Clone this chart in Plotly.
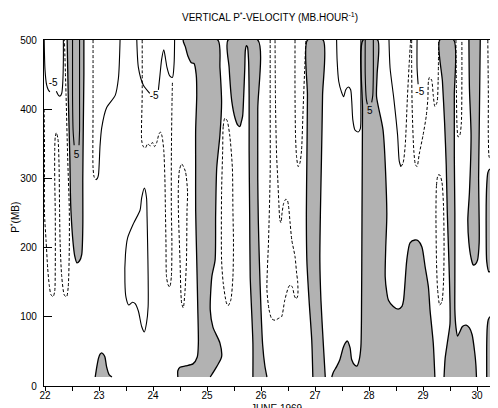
import plotly.graph_objects as go

# ---------------- data (day of June 1969, P* in mb) ----------------
day_ticks = [22, 23, 24, 25, 26, 27, 28, 29, 30]
p_ticks = [0, 100, 200, 300, 400, 500]

# shaded (positive) regions, boundary
region_s1 = [(22.41,500),(22.43,420),(22.46,330),(22.47,280),(22.48,254),(22.52,207),(22.55,188),(22.59,178),
             (22.64,181),(22.68,190),(22.70,230),(22.70,300),(22.71,380),(22.72,450),(22.72,500)]
region_s2 = [(22.93,13),(22.96,28),(22.99,40),(23.02,46),(23.05,48),(23.08,46),(23.11,42),(23.14,28),(23.19,16),(23.24,13)]
region_s3 = [(24.46,13),(24.46,22),(24.50,27),(24.60,29),(24.74,32),(24.82,42),(24.84,62),(24.83,110),(24.81,182),
             (24.79,254),(24.79,320),(24.79,370),(24.81,420),(24.80,450),(24.76,466),(24.71,467),(24.65,476),
             (24.60,490),(24.56,500),(25.20,500),(25.24,460),(25.27,410),(25.24,363),(25.18,315),(25.16,247),
             (25.15,182),(25.09,158),(25.06,110),(25.11,85),(25.24,62),(25.27,42),(25.18,28),(25.06,13)]
region_s4 = [(25.85,13),(25.85,62),(25.82,120),(25.80,158),(25.79,250),(25.78,340),(25.78,420),(25.77,470),
             (25.75,490),(25.73,492),(25.71,485),(25.70,460),(25.68,420),(25.66,390),(25.63,380),(25.61,375),
             (25.57,377),(25.52,387),(25.46,411),(25.41,460),(25.39,500),(25.94,500),(25.94,400),(25.94,300),
             (25.95,240),(25.97,180),(26.00,110),(26.03,60),(26.07,30),(26.11,13)]
region_s6 = [(26.96,13),(26.94,66),(26.89,124),(26.85,180),(26.84,250),(26.85,330),(26.86,420),(26.86,500),
             (27.15,500),(27.14,420),(27.12,330),(27.10,250),(27.09,182),(27.11,124),(27.15,66),(27.19,13)]
region_s8 = [(27.31,13),(27.34,20),(27.40,28),(27.46,38),(27.52,55),(27.56,62),(27.60,65),(27.65,55),(27.68,38),
             (27.74,30),(27.78,29),(27.82,38),(27.85,57),(27.86,95),(27.87,240),(27.88,400),(27.89,500),
             (28.16,500),(28.15,450),(28.14,418),(28.26,370),(28.33,250),(28.31,200),(28.30,158),(28.33,135),
             (28.36,124),(28.45,115),(28.54,111),(28.61,115),(28.64,124),(28.70,182),(28.76,207),(28.85,211),
             (28.91,210),(28.98,201),(29.04,172),(29.10,143),(29.13,110),(29.19,62),(29.22,13)]
region_s9 = [(29.39,13),(29.41,40),(29.45,62),(29.50,90),(29.50,120),(29.48,180),(29.45,250),(29.43,320),
             (29.40,380),(29.36,440),(29.31,500),(29.57,500),(29.58,420),(29.58,330),(29.59,250),(29.59,150),
             (29.59,110),(29.61,85),(29.64,72),(29.68,78),(29.73,86),(29.80,88),(29.86,84),(29.91,74),
             (29.96,47),(29.98,30),(29.99,13)]
region_s11 = [(29.85,500),(29.86,430),(29.89,363),(29.86,280),(29.83,240),(29.85,207),(29.89,185),(29.93,175),
              (29.97,176),(30.01,182),(30.04,207),(30.04,240),(30.03,300),(30.04,363),(30.05,430),(30.06,500)]
region_s12 = [(30.22,165),(30.18,180),(30.17,220),(30.17,260),(30.18,290),(30.20,308),(30.23,313),(30.27,311),
              (30.31,303),(30.33,285),(30.34,250),(30.33,210),(30.30,180),(30.26,167),(30.22,165)]
region_s13 = [(30.18,13),(30.18,60),(30.19,85),(30.21,96),(30.24,100),(30.28,98),(30.31,90),(30.34,78),
              (30.36,60),(30.37,45),(30.37,13)]

# thin solid isolines
solid_t1a = [(21.985,500),(22.00,457),(22.03,435),(22.06,428),(22.09,425)]
solid_t1b = [(22.21,426),(22.25,420),(22.28,419),(22.31,423),(22.33,440),(22.34,470),(22.34,500)]
solid_p5a = [(22.51,500),(22.51,420),(22.52,370),(22.54,348)]
solid_p5b = [(22.64,500),(22.64,420),(22.64,370),(22.63,348)]
solid_t3 = [(22.94,298),(22.97,300),(22.99,305),(23.02,348),(23.05,373),(23.14,402),(23.30,420),(23.36,445),(23.39,500)]
solid_t4a = [(23.70,500),(23.73,460),(23.82,435),(23.94,423)]
solid_t4b = [(24.10,428),(24.13,450),(24.16,472),(24.20,486),(24.23,474),(24.26,460),(24.31,448),(24.36,446),
             (24.39,465),(24.40,500)]
solid_t6 = [(23.84,286),(23.79,272),(23.76,254),(23.64,235),(23.53,214),(23.49,190),(23.48,150),(23.50,128),
            (23.55,117),(23.62,121),(23.67,119),(23.73,108),(23.79,86),(23.84,78),(23.88,91),(23.91,115),
            (23.91,158),(23.90,207),(23.89,245),(23.88,272),(23.84,286)]
solid_t11 = [(27.40,500),(27.41,470),(27.44,440),(27.49,425),(27.53,418),(27.57,428),(27.62,432),(27.66,428),
             (27.68,412),(27.70,385),(27.74,370),(27.80,367),(27.84,372),(27.85,402),(27.85,460),(27.85,500)]
solid_p5c = [(27.93,500),(27.93,450),(27.95,415),(27.97,407)]
solid_p5d = [(28.08,500),(28.08,450),(28.07,420),(28.05,410)]
solid_t12 = [(28.37,500),(28.39,460),(28.46,415),(28.53,362),(28.56,325),(28.59,317)]
solid_t14 = [(28.89,500),(28.89,460),(28.91,436)]

# dashed isolines
dash_t2 = [(21.985,400),(21.99,360),(21.99,300),(21.99,250),(22.02,210),(22.05,170),(22.08,145),(22.11,132),
           (22.15,129),(22.18,137),(22.19,170),(22.19,250),(22.18,300),(22.18,340),(22.19,360),(22.21,366),
           (22.24,357),(22.26,320),(22.27,254),(22.28,207),(22.31,158),(22.36,131),(22.40,129),(22.43,143),
           (22.45,200),(22.45,254),(22.42,330),(22.39,420),(22.36,500)]
dash_t3 = [(22.89,500),(22.89,400),(22.89,315),(22.91,302),(22.94,298)]
dash_t5 = [(23.80,500),(23.80,420),(23.79,355),(23.82,346),(23.86,344),(23.90,350),(23.95,347),(23.99,352),
           (24.03,346),(24.07,352),(24.11,364),(24.14,367),(24.17,360),(24.20,340),(24.22,300),(24.23,254),
           (24.24,207),(24.25,158),(24.28,146),(24.31,143),(24.34,158),(24.35,207),(24.34,254),(24.34,330),
           (24.35,400),(24.36,440)]
dash_t7 = [(24.53,321),(24.49,312),(24.47,290),(24.47,254),(24.50,182),(24.53,120),(24.56,113),(24.59,134),
           (24.62,182),(24.63,254),(24.64,280),(24.60,310),(24.53,321)]
dash_t8 = [(25.33,387),(25.30,375),(25.29,339),(25.27,280),(25.27,182),(25.30,149),(25.36,120),(25.39,116),
           (25.44,124),(25.48,158),(25.49,207),(25.48,254),(25.47,315),(25.42,363),(25.37,384),(25.33,387)]
dash_t9 = [(26.17,500),(26.17,400),(26.17,308),(26.14,211),(26.11,139),(26.15,110),(26.20,97),(26.26,95),
           (26.33,98),(26.38,100),(26.44,124),(26.51,143),(26.54,146),(26.58,143),(26.62,130),(26.65,126),
           (26.68,130),(26.68,150),(26.66,163),(26.63,187),(26.57,211),(26.54,235),(26.51,260),(26.49,268),
           (26.46,270),(26.42,264),(26.39,250),(26.37,236),(26.35,240),(26.33,265),(26.31,300),(26.29,331),
           (26.27,400),(26.26,500)]
dash_t10 = [(26.63,500),(26.63,420),(26.64,360),(26.66,330),(26.69,317),(26.72,322),(26.75,340),(26.78,400),
            (26.81,460),(26.83,500)]
dash_t12 = [(28.59,317),(28.63,322),(28.67,347),(28.71,415),(28.74,460),(28.77,500)]
dash_t13 = [(28.79,500),(28.79,460),(28.80,400),(28.83,340),(28.86,320),(28.89,317),(28.93,335),(29.00,362),
            (29.06,390),(29.09,415),(29.10,440),(29.12,446),(29.16,442),(29.19,420),(29.22,404),(29.26,410),
            (29.28,440),(29.29,500)]
dash_t15 = [(29.61,500),(29.62,420),(29.63,375),(29.65,360),(29.68,362),(29.71,380),(29.72,440),(29.72,500)]
dash_t16 = [(30.20,500),(30.21,420),(30.21,360),(30.23,330),(30.26,332),(30.27,370),(30.27,440),(30.27,500)]
dash_t17 = [(29.28,305),(29.25,290),(29.24,250),(29.25,180),(29.27,140),(29.31,117),(29.35,122),(29.38,150),
            (29.39,200),(29.38,260),(29.35,295),(29.31,305),(29.28,305)]

# isoline labels
label_text = ["-5", "5", "-5", "5", "-5"]
label_day = [22.15, 22.585, 24.02, 28.015, 28.94]
label_p = [437, 333, 419, 396, 424]

# ---------------- figure ----------------
SHADE = "#b2b2b2"
FONT = "Liberation Sans"
fig = go.Figure()


def xs(pts):
    return [p[0] for p in pts]


def ys(pts):
    return [p[1] for p in pts]


regions = [region_s1, region_s2, region_s3, region_s4, region_s6, region_s8,
           region_s9, region_s11, region_s12, region_s13]
for reg in regions:
    fig.add_trace(go.Scatter(x=xs(reg), y=ys(reg), mode="lines", fill="toself",
                             fillcolor=SHADE, line=dict(width=0, shape="spline", smoothing=0.7),
                             hoverinfo="skip", showlegend=False))
for reg in regions:
    fig.add_trace(go.Scatter(x=xs(reg), y=ys(reg), mode="lines",
                             line=dict(color="black", width=1.3, shape="spline", smoothing=0.7),
                             hoverinfo="skip", showlegend=False))

solids = [solid_t1a, solid_t1b, solid_p5a, solid_p5b, solid_t3, solid_t4a, solid_t4b, solid_t6,
          solid_t11, solid_p5c, solid_p5d, solid_t12, solid_t14]
for ln in solids:
    fig.add_trace(go.Scatter(x=xs(ln), y=ys(ln), mode="lines",
                             line=dict(color="black", width=1.1, shape="spline", smoothing=0.7),
                             hoverinfo="skip", showlegend=False))

dashes = [dash_t2, dash_t3, dash_t5, dash_t7, dash_t8, dash_t9, dash_t10, dash_t12, dash_t13,
          dash_t15, dash_t16, dash_t17]
for ln in dashes:
    fig.add_trace(go.Scatter(x=xs(ln), y=ys(ln), mode="lines",
                             line=dict(color="black", width=1.0, dash="3px,2px", shape="spline", smoothing=0.7),
                             hoverinfo="skip", showlegend=False))

fig.add_trace(go.Scatter(x=label_day, y=label_p, mode="text", text=label_text,
                         textfont=dict(family=FONT, size=10, color="black"),
                         hoverinfo="skip", showlegend=False))

# the page body keeps its default 8px margin, so the figure is sized to end at the window edge
fig.update_layout(
    width=490, height=400,
    margin=dict(l=36, r=1, t=32, b=22),
    paper_bgcolor="white", plot_bgcolor="white",
    font=dict(family=FONT, size=10, color="black"),
    showlegend=False,
    xaxis=dict(range=[21.9815, 30.3704], tickvals=day_ticks, ticktext=[str(d) for d in day_ticks],
               ticks="outside", ticklen=4, tickwidth=1, tickcolor="black",
               minor=dict(tick0=22, dtick=0.5, ticks="outside", ticklen=4, tickwidth=1, tickcolor="black"),
               showline=True, linecolor="black", linewidth=1.2, mirror=True,
               showgrid=False, zeroline=False, ticklabelstandoff=-4, tickfont=dict(size=10)),
    yaxis=dict(range=[0, 500], tickvals=p_ticks, ticks="inside", ticklen=8, tickwidth=1, tickcolor="black",
               showline=True, linecolor="black", linewidth=1.2, mirror=True,
               showgrid=False, zeroline=False, ticklabelstandoff=4, tickfont=dict(size=10)),
    annotations=[
        dict(text="VERTICAL P<sup>*</sup>-VELOCITY (MB.HOUR<sup>-1</sup>)", xref="paper", yref="paper",
             x=0.499, y=1.066, xanchor="center", yanchor="middle", showarrow=False,
             font=dict(size=10)),
        dict(text="P<sup>*</sup>(MB)", xref="paper", yref="paper", x=-0.064, y=0.486,
             xanchor="center", yanchor="middle", textangle=-90, showarrow=False, font=dict(size=10)),
        dict(text="JUNE 1969", xref="paper", yref="paper", x=0.514, y=-0.042,
             xanchor="center", yanchor="top", showarrow=False, font=dict(size=10)),
    ],
)

fig.write_html("out.html")
